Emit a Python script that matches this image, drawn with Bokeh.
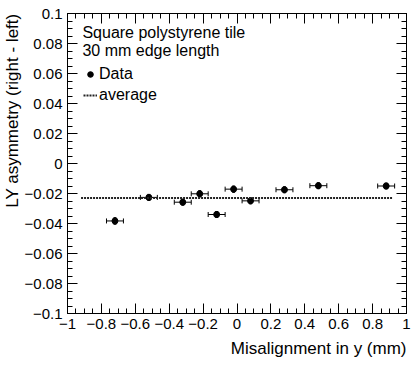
import numpy as np
from bokeh.plotting import figure
from bokeh.models import (ColumnDataSource, Whisker, TeeHead, FixedTicker, LinearAxis,
                          Legend, LegendItem, Label, Range1d, CustomJSTickFormatter, Title)
from bokeh.embed import file_html
from bokeh.resources import INLINE

# ---- data ----
x_vals = [-0.72, -0.52, -0.32, -0.22, -0.12, -0.02, 0.08, 0.28, 0.48, 0.88]
y_vals = [-0.0383, -0.0226, -0.0258, -0.0202, -0.0340, -0.0171, -0.0249, -0.0175, -0.0148, -0.0150]
x_err = [0.05, 0.05, 0.05, 0.05, 0.05, 0.05, 0.05, 0.05, 0.05, 0.05]
y_err = [0.0022, 0.0020, 0.0020, 0.0021, 0.0020, 0.0021, 0.0020, 0.0020, 0.0020, 0.0020]
avg_x_range = [-0.92, 0.92]
avg_value = float(np.mean(y_vals))

x_major = [-1, -0.8, -0.6, -0.4, -0.2, 0, 0.2, 0.4, 0.6, 0.8, 1]
x_minor = [round(-1 + 0.05 * i, 3) for i in range(41)]
y_major = [-0.1, -0.08, -0.06, -0.04, -0.02, 0, 0.02, 0.04, 0.06, 0.08, 0.1]
y_minor = [round(-0.1 + 0.005 * i, 4) for i in range(41)]

header_lines = ["Square polystyrene tile", "30 mm edge length"]
x_title = "Misalignment in y (mm)"
y_title = "LY asymmetry (right - left)"

FONT = "Liberation Sans"

src = ColumnDataSource(dict(
    x=x_vals, y=y_vals,
    xl=[a - e for a, e in zip(x_vals, x_err)], xu=[a + e for a, e in zip(x_vals, x_err)],
    yl=[a - e for a, e in zip(y_vals, y_err)], yu=[a + e for a, e in zip(y_vals, y_err)],
))

p = figure(width=419, height=365, x_range=Range1d(-1, 1), y_range=Range1d(-0.1, 0.1),
           output_backend="svg", toolbar_location=None,
           min_border_left=66, min_border_right=13, min_border_top=13, min_border_bottom=52,
           outline_line_color=None, background_fill_color="white")
p.xgrid.visible = False
p.ygrid.visible = False

fmt = CustomJSTickFormatter(code="""
const v = Math.round(tick*10000)/10000;
if (v == 0) return "0";
return (v < 0 ? "\\u2212" : "") + Math.abs(v).toString();
""")
empty_fmt = CustomJSTickFormatter(code='return "";')

def style_axis(ax, ticks, minor, labels=True):
    ax.ticker = FixedTicker(ticks=ticks, minor_ticks=minor)
    ax.axis_line_color = "black"
    ax.axis_line_width = 1
    ax.major_tick_line_color = "black"
    ax.minor_tick_line_color = "black"
    ax.major_tick_in = 10
    ax.major_tick_out = 0
    ax.minor_tick_in = 5
    ax.minor_tick_out = 0
    if labels:
        ax.formatter = fmt
        ax.major_label_text_font = FONT
        ax.major_label_text_font_size = "15px"
        ax.major_label_text_color = "black"
    else:
        ax.formatter = empty_fmt
        ax.major_label_standoff = 0

xa = p.xaxis[0]
ya = p.yaxis[0]
style_axis(xa, x_major, x_minor)
style_axis(ya, y_major, y_minor)
xa.major_label_standoff = 5
ya.major_label_standoff = 5

top = LinearAxis()
style_axis(top, x_major, x_minor, labels=False)
p.add_layout(top, "above")
right = LinearAxis()
style_axis(right, y_major, y_minor, labels=False)
p.add_layout(right, "right")

# axis titles (right/top aligned, as in the original)
p.add_layout(Title(text=x_title, align="right", text_font=FONT, text_font_size="17px",
                   text_font_style="normal", text_color="black", standoff=10), "below")
p.add_layout(Title(text=y_title, align="right", text_font=FONT, text_font_size="17px",
                   text_font_style="normal", text_color="black", standoff=0), "left")

# error bars
p.add_layout(Whisker(source=src, base="y", lower="xl", upper="xu", dimension="width",
                     line_color="black", line_width=1,
                     lower_head=TeeHead(size=5, line_color="black", line_width=1),
                     upper_head=TeeHead(size=5, line_color="black", line_width=1)))
p.add_layout(Whisker(source=src, base="x", lower="yl", upper="yu", dimension="height",
                     line_color="black", line_width=1,
                     lower_head=TeeHead(size=3, line_color="black", line_width=1),
                     upper_head=TeeHead(size=3, line_color="black", line_width=1)))

pts = p.scatter("x", "y", source=src, size=6, color="black")
avg_r = p.line(x=avg_x_range, y=[avg_value, avg_value], line_color="#222222",
               line_width=2, line_dash="2 1")

for i, t in enumerate(header_lines):
    p.add_layout(Label(x=-0.912, y=0.0876 - 0.012 * i, text=t, text_font=FONT,
                       text_font_size="16px", text_color="black",
                       text_baseline="alphabetic", text_align="left"))

legend = Legend(items=[LegendItem(label="Data", renderers=[pts]),
                       LegendItem(label="average", renderers=[avg_r])],
                location=(16, 209), glyph_width=14, glyph_height=18, label_height=18,
                label_standoff=2, spacing=3, padding=0, margin=0,
                border_line_color=None, background_fill_alpha=0,
                label_text_font=FONT, label_text_font_size="16px", label_text_color="black")
p.add_layout(legend)

open("out.html", "w").write(file_html(p, INLINE))
